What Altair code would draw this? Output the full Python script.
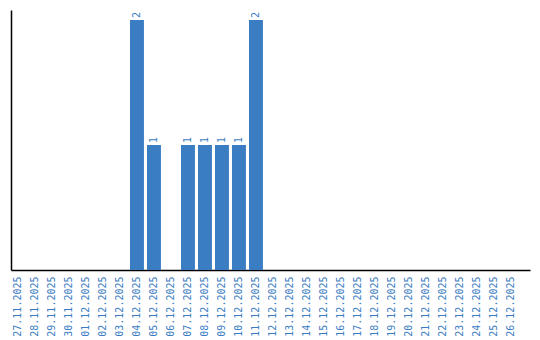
import altair as alt
import pandas as pd

dates = ["27.11.2025", "28.11.2025", "29.11.2025", "30.11.2025", "01.12.2025",
         "02.12.2025", "03.12.2025", "04.12.2025", "05.12.2025", "06.12.2025",
         "07.12.2025", "08.12.2025", "09.12.2025", "10.12.2025", "11.12.2025",
         "12.12.2025", "13.12.2025", "14.12.2025", "15.12.2025", "16.12.2025",
         "17.12.2025", "18.12.2025", "19.12.2025", "20.12.2025", "21.12.2025",
         "22.12.2025", "23.12.2025", "24.12.2025", "25.12.2025", "26.12.2025"]
counts = [0, 0, 0, 0, 0, 0, 0, 2, 1, 0, 1, 1, 1, 1, 2,
          0, 0, 0, 0, 0, 0, 0, 0, 0, 0, 0, 0, 0, 0, 0]

df = pd.DataFrame({"date": dates, "count": counts})
labels_df = df[df["count"] > 0]

BLUE = "#3b7dc2"
FONT = "DejaVu Sans Mono"

x = alt.X("date:N", sort=dates, title=None,
          scale=alt.Scale(paddingInner=0.18, paddingOuter=0.355, align=0),
          axis=alt.Axis(labelAngle=-90, labelColor=BLUE, labelFont=FONT, labelFontSize=10,
                        ticks=False, domainColor="black", domainWidth=1.5, labelPadding=6,
                        labelBaseline="middle", labelAlign="right"))
y = alt.Y("count:Q", title=None,
          scale=alt.Scale(domain=[0, 2.08], nice=False),
          axis=alt.Axis(labels=False, ticks=False, grid=False, domainColor="black",
                        domainWidth=1.5))

bars = alt.Chart(df).mark_bar(color=BLUE).encode(x=x, y=y)
text = alt.Chart(labels_df).mark_text(
    angle=270, align="left", baseline="middle", dx=2, color=BLUE, font=FONT, fontSize=10
).encode(x=alt.X("date:N", sort=dates), y="count:Q", text="count:Q")

chart = (bars + text).properties(
    width=519, height=260,
    background="white",
    autosize=alt.AutoSizeParams(type="none"),
    padding={"left": 11, "top": 10, "right": 10, "bottom": 70},
).configure_view(stroke=None)

chart.save("out.html", embed_options={"renderer": "svg", "actions": False})
